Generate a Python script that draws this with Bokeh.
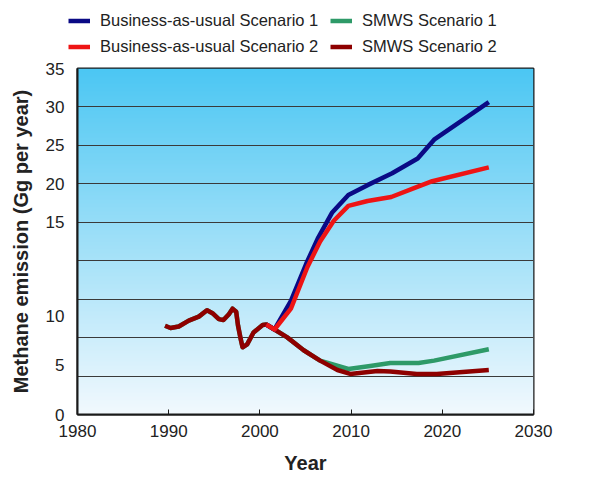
import numpy as np
from bokeh.plotting import figure
from bokeh.layouts import column
from bokeh.models import Range1d, FixedTicker, Legend, LegendItem
from bokeh.embed import file_html
from bokeh.resources import INLINE

# ---- data ----
hist_years = [1989.6, 1990.2, 1991.1, 1992.2, 1993.3, 1994.2, 1994.8, 1995.5, 1996.0, 1996.6,
              1997.0, 1997.4, 1997.6, 1997.9, 1998.1, 1998.6, 1999.3, 2000.3, 2000.7]
hist_vals = [8.98, 8.75, 8.9, 9.5, 9.9, 10.55, 10.25, 9.65, 9.55, 10.15,
             10.7, 10.4, 9.0, 7.6, 6.8, 7.1, 8.3, 9.05, 9.1]

bau1_years = [2000.7, 2001.6, 2003.4, 2005.1, 2006.4, 2007.9, 2009.7, 2011.8, 2014.5, 2017.3, 2019.1, 2025.1]
bau1_vals = [9.1, 8.6, 11.5, 15.3, 17.9, 20.4, 22.2, 23.2, 24.4, 25.9, 27.8, 31.6]

bau2_years = [2000.7, 2001.6, 2003.4, 2005.2, 2006.6, 2008.1, 2009.7, 2011.8, 2014.4, 2016.9, 2018.9, 2025.1]
bau2_vals = [9.1, 8.6, 10.7, 14.9, 17.5, 19.6, 21.1, 21.6, 22.0, 22.9, 23.6, 25.0]

smws1_years = [2001.6, 2003.0, 2004.8, 2006.6, 2009.7, 2012.1, 2014.3, 2017.4, 2019.1, 2025.1]
smws1_vals = [8.6, 7.8, 6.5, 5.45, 4.6, 4.9, 5.2, 5.2, 5.45, 6.6]

smws2_years = [2001.6, 2003.0, 2004.8, 2006.6, 2008.5, 2009.9, 2012.9, 2014.3, 2017.2, 2019.4, 2025.1]
smws2_vals = [8.6, 7.8, 6.5, 5.45, 4.5, 4.1, 4.4, 4.35, 4.1, 4.1, 4.5]

series_names = ["Business-as-usual Scenario 1", "Business-as-usual Scenario 2",
                "SMWS Scenario 1", "SMWS Scenario 2"]

x_ticks = [1980, 1990, 2000, 2010, 2020, 2030]
y_tick_pos = [0, 5, 10, 19.44, 23.33, 27.22, 31.11, 35]
y_tick_labels = ["0", "5", "10", "15", "20", "25", "30", "35"]
grid_pos = [3.89, 7.78, 11.67, 15.56, 19.44, 23.33, 27.22, 31.11]

FONT = "Liberation Sans"
TXT = "#222222"
C_B1, C_B2, C_S1, C_S2 = "#0a0a85", "#ee1414", "#2e9a68", "#8e0000"
LW = 4.5

p = figure(width=601, height=418, output_backend="svg", toolbar_location=None,
           x_range=Range1d(1980, 2030), y_range=Range1d(0, 35),
           min_border_left=77, min_border_right=68, min_border_top=8, min_border_bottom=64)
p.background_fill_color = "white"
p.border_fill_color = "white"
p.outline_line_color = "#1a1a1a"
p.outline_line_width = 2

# gradient background of the plotting area
n = 256
t = np.linspace(0, 1, n)[:, None]
top = np.array([76, 199, 243])
bot = np.array([242, 249, 254])
cols = (bot + (top - bot) * t).astype(np.uint32)
img = np.empty((n, 2), dtype=np.uint32)
view = img.view(dtype=np.uint8).reshape((n, 2, 4))
view[:, :, 0] = cols[:, 0:1]
view[:, :, 1] = cols[:, 1:2]
view[:, :, 2] = cols[:, 2:3]
view[:, :, 3] = 255
bg = p.image_rgba(image=[img], x=1980, y=0, dw=50, dh=35)
bg.level = "image"

# grid
p.xgrid.visible = False
p.ygrid.ticker = FixedTicker(ticks=grid_pos)
p.ygrid.grid_line_color = "#3a3a3a"
p.ygrid.grid_line_width = 1.2

# axes
p.xaxis.ticker = FixedTicker(ticks=x_ticks)
p.yaxis.ticker = FixedTicker(ticks=y_tick_pos)
p.yaxis.major_label_overrides = {v: s for v, s in zip(y_tick_pos, y_tick_labels)}
for ax in (p.xaxis, p.yaxis):
    ax.axis_line_color = "#1a1a1a"
    ax.axis_line_width = 2
    ax.major_label_text_font = FONT
    ax.major_label_text_font_size = "17px"
    ax.major_label_text_color = TXT
    ax.axis_label_text_font = FONT
    ax.axis_label_text_font_size = "20px"
    ax.axis_label_text_font_style = "bold"
    ax.axis_label_text_color = TXT
    ax.minor_tick_line_color = None
p.xaxis.major_tick_in = 5
p.xaxis.major_tick_out = 0
p.xaxis.major_tick_line_color = "#1a1a1a"
p.xaxis.major_label_standoff = 10
p.xaxis.axis_label = "Year"
p.xaxis.axis_label_standoff = 12
p.yaxis.major_tick_in = 0
p.yaxis.major_tick_out = 0
p.yaxis.major_label_standoff = 13
p.yaxis.axis_label = "Methane emission (Gg per year)"
p.yaxis.axis_label_standoff = 11

p.line(hist_years + smws1_years, hist_vals + smws1_vals, line_color=C_S1, line_width=LW, line_join="round")
p.line(hist_years + smws2_years, hist_vals + smws2_vals, line_color=C_S2, line_width=LW, line_join="round")
p.line(bau1_years, bau1_vals, line_color=C_B1, line_width=LW, line_join="round")
p.line(bau2_years, bau2_vals, line_color=C_B2, line_width=LW, line_join="round")

# ---- legend strip above the chart (separate figure, so it is not clipped) ----
lf = figure(width=601, height=60, output_backend="svg", toolbar_location=None,
            x_range=Range1d(0, 1), y_range=Range1d(0, 1),
            x_axis_location=None, y_axis_location=None,
            min_border_left=0, min_border_right=0, min_border_top=0, min_border_bottom=0)
try:
    lf.frame_align = False
except Exception:
    pass
lf.outline_line_color = None
lf.xgrid.visible = False
lf.ygrid.visible = False
# proxy renderers (styled like the series, their points lie outside the strip's range)
proxies = [lf.line(x=[5, 6], y=[5, 5], line_color=c, line_width=LW) for c in (C_B1, C_B2, C_S1, C_S2)]

def mk_legend(idx, loc):
    lg = Legend(items=[LegendItem(label=series_names[i], renderers=[proxies[i]]) for i in idx],
                location=loc, orientation="vertical")
    lg.background_fill_alpha = 0
    lg.border_line_alpha = 0
    lg.padding = 0
    lg.margin = 0
    lg.spacing = 5
    lg.glyph_width = 22
    lg.glyph_height = 21
    lg.label_height = 21
    lg.label_standoff = 10
    lg.label_text_font = FONT
    lg.label_text_font_size = "16.5px"
    lg.label_text_color = TXT
    return lg

lf.add_layout(mk_legend([0, 1], (68, 3)), "center")
lf.add_layout(mk_legend([2, 3], (330, 3)), "center")

layout = column(lf, p, spacing=0)
open("out.html", "w").write(file_html(layout, INLINE))
